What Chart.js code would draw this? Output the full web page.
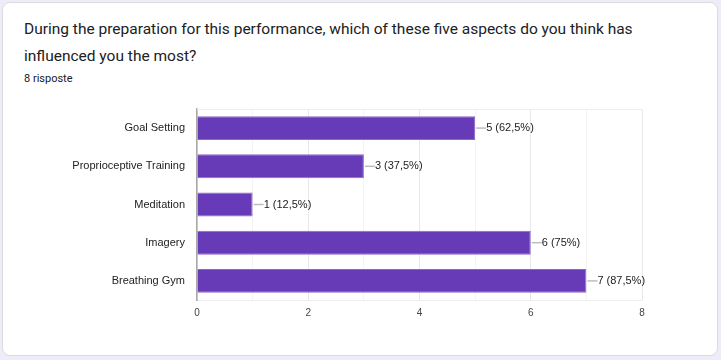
<!DOCTYPE html>
<html>
<head>
<meta charset="utf-8">
<script src="https://cdn.jsdelivr.net/npm/chart.js@4.4.1/dist/chart.umd.min.js"></script>
<style>
  html, body { margin: 0; padding: 0; }
  body { width: 721px; height: 360px; background: #f0ebf8; position: relative; overflow: hidden; }
  .card { position: absolute; left: 2px; top: 2px; width: 714px; height: 352px; background: #fff;
          border: 1px solid #dadce0; border-radius: 8px; }
  .title { position: absolute; left: 24px; top: 16px; width: 680px; font-family: Roboto, sans-serif;
           font-size: 15.5px; line-height: 27px; color: #202124; }
  .count { position: absolute; left: 24px; top: 72px; font-family: Roboto, sans-serif; font-size: 11px; color: #202124; }
  .chart-box { position: absolute; left: 0; top: 100px; width: 721px; height: 230px; }
</style>
</head>
<body>
<div class="card"></div>
<div class="title">During the preparation for this performance, which of these five aspects do you think has<br>influenced you the most?</div>
<div class="count">8 risposte</div>
<div class="chart-box"><canvas id="chart" width="721" height="230"></canvas></div>
<script>
// --- DATI ---
const categories = ['Goal Setting', 'Proprioceptive Training', 'Meditation', 'Imagery', 'Breathing Gym'];
const counts = [5, 3, 1, 6, 7];
const percentLabels = ['62,5%', '37,5%', '12,5%', '75%', '87,5%'];
const xTicks = [0, 2, 4, 6, 8];

const chartFont = '"Liberation Sans", Arial, sans-serif';

// etichette con linea guida alla fine di ogni barra
const valueLabels = {
  id: 'valueLabels',
  beforeDatasetsDraw(chart) {
    // bordo superiore dell'area del grafico
    const { ctx, chartArea } = chart;
    ctx.save();
    ctx.strokeStyle = '#eeeeee';
    ctx.lineWidth = 1;
    ctx.beginPath();
    ctx.moveTo(chartArea.left, chartArea.top + 0.5);
    ctx.lineTo(chartArea.right, chartArea.top + 0.5);
    ctx.stroke();
    ctx.restore();
  },
  afterDatasetsDraw(chart) {
    const ctx = chart.ctx;
    const meta = chart.getDatasetMeta(0);
    ctx.save();
    meta.data.forEach((bar, i) => {
      const x = bar.x;
      const y = bar.y;
      ctx.strokeStyle = '#bdbdbd';
      ctx.lineWidth = 1.5;
      ctx.beginPath();
      ctx.moveTo(x + 1, y);
      ctx.lineTo(x + 11, y);
      ctx.stroke();
      ctx.fillStyle = '#222';
      ctx.font = '11px ' + chartFont;
      ctx.textAlign = 'left';
      ctx.textBaseline = 'middle';
      ctx.fillText(counts[i] + ' (' + percentLabels[i] + ')', x + 11, y);
    });
    ctx.restore();
  }
};

new Chart(document.getElementById('chart'), {
  type: 'bar',
  data: {
    labels: categories,
    datasets: [{
      data: counts,
      backgroundColor: '#673ab7',
      borderColor: '#8a68c9',
      borderWidth: 1,
      barPercentage: 0.625,
      categoryPercentage: 1
    }]
  },
  options: {
    indexAxis: 'y',
    responsive: false,
    animation: false,
    layout: { padding: { left: 0, right: 79, top: 9, bottom: 9 } },
    plugins: { legend: { display: false }, tooltip: { enabled: false } },
    scales: {
      x: {
        min: 0, max: 8,
        afterFit(scale) { scale.height = 21; scale.paddingLeft = 0; scale.paddingRight = 0; },
        afterBuildTicks(scale) {
          scale.ticks = [0, 1, 2, 3, 4, 5, 6, 7, 8].map(v => ({ value: v }));
        },
        ticks: {
          font: { family: chartFont, size: 10 }, color: '#444', padding: 7,
          autoSkip: false, maxRotation: 0,
          callback: (v) => xTicks.includes(v) ? String(v) : ''
        },
        grid: {
          drawTicks: false,
          color: (c) => c.tick && c.tick.value % 2 === 0 ? '#e8e8e8' : '#f4f4f4'
        },
        border: { color: '#eeeeee', width: 1 }
      },
      y: {
        afterFit(scale) { scale.width = 197; scale.paddingTop = 0; scale.paddingBottom = 0; },
        ticks: { font: { family: chartFont, size: 11 }, color: '#222', padding: 12 },
        grid: { display: false, drawTicks: false },
        border: { color: '#a8a8a8', width: 1.5 }
      }
    }
  },
  plugins: [valueLabels]
});
</script>
</body>
</html>
